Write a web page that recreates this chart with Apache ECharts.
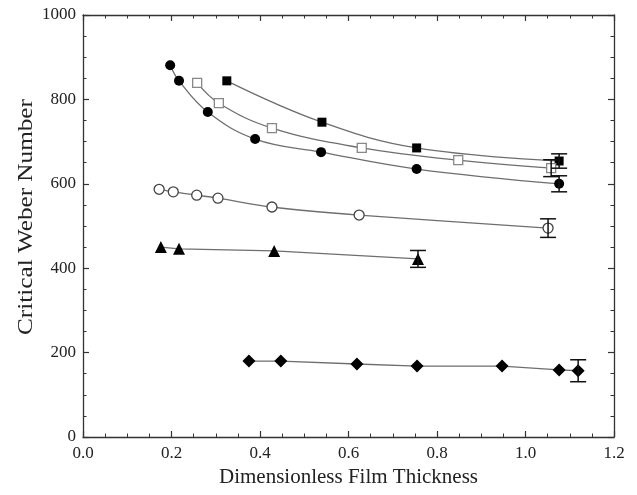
<!DOCTYPE html>
<html>
<head>
<meta charset="utf-8">
<script src="https://cdn.jsdelivr.net/npm/echarts@6/dist/echarts.min.js"></script>
<style>
html,body{margin:0;padding:0;background:#fff;}
#chart{width:637px;height:495px;}
</style>
</head>
<body>
<div id="chart"></div>
<script>
// Data
const filledCircleX = [0.197, 0.217, 0.282, 0.389, 0.538, 0.754, 1.076];
const filledCircleY = [881, 844, 770, 706, 675, 635, 600];

const filledSquareX = [0.325, 0.540, 0.754, 1.076];
const filledSquareY = [844, 746, 685, 654];

const openSquareX = [0.258, 0.307, 0.427, 0.630, 0.848, 1.058];
const openSquareY = [839, 791, 732, 685, 656, 637];

const openCircleX = [0.172, 0.204, 0.257, 0.305, 0.427, 0.624, 1.051];
const openCircleY = [587, 581, 573, 566, 545, 526, 495];

const triangleX = [0.176, 0.217, 0.432, 0.757];
const triangleY = [450, 446, 441, 422];

const diamondX = [0.375, 0.447, 0.619, 0.755, 0.947, 1.076, 1.119];
const diamondY = [180, 180, 173, 168, 168, 159, 157];

// error bars: x, y, half-width
const errX = [1.076, 1.058, 1.076, 1.051, 0.757, 1.119];
const errY = [654, 637, 600, 495, 422, 157];
const errD = [17, 20, 19, 22, 20, 26];

const xTicks = ['0.0', '0.2', '0.4', '0.6', '0.8', '1.0', '1.2'];
const yTicks = ['0', '200', '400', '600', '800', '1000'];
const xTitle = 'Dimensionless Film Thickness';
const yTitle = 'Critical Weber Number';

const pairs = (xs, ys) => xs.map((x, i) => [x, ys[i]]);
const FONT = 'Liberation Serif';
const lineGray = '#6e6e6e';

const baseAxis = {
  axisLine: { show: true, onZero: false, lineStyle: { color: '#333', width: 1.3 } },
  axisTick: { show: true, inside: true, length: 6, lineStyle: { color: '#333', width: 1.2 } },
  minorTick: { show: true, splitNumber: 4, length: 3.5, lineStyle: { color: '#333', width: 1 } },
  splitLine: { show: false },
  minorSplitLine: { show: false }
};

function lineSeries(name, xs, ys, symbol, size, filled, smooth) {
  return {
    name: name,
    type: 'line',
    data: pairs(xs, ys),
    symbol: symbol,
    symbolSize: size,
    smooth: smooth,
    showSymbol: true,
    lineStyle: { color: lineGray, width: 1.3 },
    itemStyle: filled
      ? { color: '#000', borderColor: '#000', borderWidth: 0 }
      : { color: '#fff', borderColor: filled === null ? '#888' : '#444', borderWidth: 1.3 },
    z: 3,
    animation: false
  };
}

const option = {
  animation: false,
  backgroundColor: '#fff',
  grid: { left: 83, top: 15, right: 23, bottom: 58, containLabel: false },
  graphic: [
    {
      type: 'text', x: 26, y: 217, rotation: Math.PI / 2, scaleX: 1.2, scaleY: 1,
      style: { text: yTitle, font: '21px "Liberation Serif"', fill: '#222', align: 'center', verticalAlign: 'middle' }
    }
  ],
  xAxis: [
    Object.assign({}, baseAxis, {
      type: 'value', min: 0, max: 1.2, interval: 0.2,
      name: xTitle,
      nameLocation: 'middle', nameGap: 30,
      nameTextStyle: { fontFamily: FONT, fontSize: 21, color: '#222' },
      axisLabel: {
        fontFamily: FONT, fontSize: 17, color: '#222', margin: 8,
        formatter: (v) => xTicks[Math.round(v / 0.2)] || ''
      }
    }),
    Object.assign({}, baseAxis, {
      type: 'value', min: 0, max: 1.2, interval: 0.2, position: 'top',
      axisLabel: { show: false }
    })
  ],
  yAxis: [
    Object.assign({}, baseAxis, {
      type: 'value', min: 0, max: 1000, interval: 200,
      axisLabel: {
        fontFamily: FONT, fontSize: 17, color: '#222', margin: 7,
        formatter: (v) => yTicks[Math.round(v / 200)] || ''
      }
    }),
    Object.assign({}, baseAxis, {
      type: 'value', min: 0, max: 1000, interval: 200, position: 'right',
      axisLabel: { show: false }
    })
  ],
  series: [
    lineSeries('filledSquare', filledSquareX, filledSquareY, 'rect', 9, true, 0.4),
    lineSeries('openSquare', openSquareX, openSquareY, 'rect', 9, null, 0.4),
    lineSeries('filledCircle', filledCircleX, filledCircleY, 'circle', 10, true, 0.4),
    lineSeries('openCircle', openCircleX, openCircleY, 'circle', 10, false, 0.3),
    lineSeries('triangle', triangleX, triangleY, 'triangle', 12, true, 0),
    lineSeries('diamond', diamondX, diamondY, 'diamond', 13, true, 0),
    {
      type: 'custom',
      name: 'errors',
      data: errX.map((x, i) => [x, errY[i], errD[i]]),
      z: 4,
      animation: false,
      renderItem: function (params, api) {
        const x = api.value(0), y = api.value(1), d = api.value(2);
        const top = api.coord([x, y + d]);
        const bot = api.coord([x, y - d]);
        const w = 8;
        const style = { stroke: '#111', lineWidth: 1.5, fill: null };
        return {
          type: 'group',
          children: [
            { type: 'line', shape: { x1: top[0], y1: top[1], x2: bot[0], y2: bot[1] }, style: style },
            { type: 'line', shape: { x1: top[0] - w, y1: top[1], x2: top[0] + w, y2: top[1] }, style: style },
            { type: 'line', shape: { x1: bot[0] - w, y1: bot[1], x2: bot[0] + w, y2: bot[1] }, style: style }
          ]
        };
      }
    }
  ]
};

const chart = echarts.init(document.getElementById('chart'), null, { renderer: 'canvas' });
chart.setOption(option);
</script>
</body>
</html>
